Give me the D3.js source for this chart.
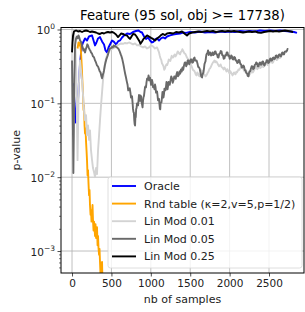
<!DOCTYPE html>
<html><head><meta charset="utf-8">
<script src="https://cdn.jsdelivr.net/npm/d3@7"></script>
<style>body{margin:0;background:#fff} svg{display:block;font-family:"DejaVu Sans",sans-serif}</style>
</head><body><svg id="c" width="305" height="312"></svg>
<script>
const title = "Feature (95 sol, obj >= 17738)";
const xLabel = "nb of samples";
const yLabel = "p-value";
const xTicks = [0, 500, 1000, 1500, 2000, 2500];
const yTicks = [1, 0.1, 0.01, 0.001];
const yTickExp = ["0", "\u22121", "\u22122", "\u22123"];
const seriesNames = ["Oracle", "Rnd table (\u03ba=2,v=5,p=1/2)", "Lin Mod 0.01", "Lin Mod 0.05", "Lin Mod 0.25"];
const seriesColors = ["#0000ff", "#ffa500", "#d3d3d3", "#696969", "#000000"];

const oracle = [[15,0.186],[25,0.128],[40,0.081],[47,0.055],[55,0.069],[63,0.063],[76,0.110],[89,0.205],[100,0.326],[115,0.489],
[127,0.608],[140,0.667],[165,0.756],[190,0.710],[215,0.804],[254,0.830],[273,0.710],[292,0.608],[310,0.667],[330,0.756],
[355,0.790],[381,0.689],[406,0.627],[425,0.520],[444,0.489],[463,0.571],[482,0.627],[508,0.710],[533,0.680],[558,0.627],
[584,0.689],[609,0.710],[635,0.780],[660,0.830],[698,0.883],[736,0.870],[774,0.925],[812,0.954],[844,0.969],[869,0.925],
[888,0.911],[914,0.804],[939,0.745],[964,0.780],[990,0.710],[1015,0.667],[1034,0.680],[1053,0.733],[1079,0.756],[1104,0.710],
[1129,0.756],[1155,0.780],[1180,0.756],[1206,0.804],[1244,0.830],[1282,0.856],[1320,0.870],[1371,0.883],[1409,0.911],[1447,0.900],
[1497,0.925],[1561,0.911],[1624,0.940],[1688,0.911],[1751,0.925],[1815,0.911],[1878,0.940],[1942,0.925],[2005,0.940],[2068,0.925],
[2132,0.954],[2195,0.940],[2259,0.954],[2322,0.940],[2386,0.969],[2449,0.954],[2513,0.969],[2576,0.954],[2640,0.969],[2703,0.954],
[2767,0.940],[2817,0.925],[2855,0.900]];

const rndTable = [[70,0.553],[82,0.667],[95,0.608],[105,0.667],[114,0.489],[123,0.326],[131,0.205],[140,0.128],[146,0.081],[152,0.094],
[159,0.050],[165,0.039],[171,0.046],[178,0.030],[184,0.023],[190,0.017],[197,0.0106],[203,0.0124],[209,0.0083],[216,0.0057],
[222,0.0067],[228,0.0042],[235,0.0031],[241,0.0036],[247,0.0025],[254,0.0028],[260,0.0042],[266,0.0026],[273,0.0019],[279,0.0025],
[285,0.0021],[292,0.0016],[298,0.0023],[305,0.0015],[311,0.0018],[317,0.0021],[324,0.0012],[330,0.0016],[336,0.0011],[343,0.00089],
[349,0.00107],[355,0.00071],[362,0.00047],[368,0.00030],[374,0.00064],[381,0.00071],[387,0.00035],[393,0.00022]];

const linMod001 = [[0,0.856],[6,0.710],[19,0.911],[32,0.804],[44,0.520],[55,0.205],[63,0.059],[70,0.017],[76,0.043],[82,0.110],
[91,0.239],[102,0.381],[114,0.279],[127,0.205],[140,0.128],[152,0.081],[165,0.059],[178,0.069],[190,0.037],[203,0.050],
[216,0.032],[228,0.043],[241,0.023],[254,0.017],[266,0.0133],[279,0.0117],[292,0.0100],[305,0.0133],[317,0.0110],[330,0.023],
[343,0.037],[355,0.059],[368,0.094],[381,0.141],[393,0.205],[406,0.279],[419,0.347],[431,0.406],[450,0.460],[470,0.505],
[495,0.537],[520,0.553],[546,0.571],[571,0.608],[597,0.627],[622,0.647],[647,0.640],[673,0.657],[698,0.647],[723,0.667],
[749,0.647],[774,0.627],[800,0.647],[825,0.608],[850,0.617],[876,0.589],[901,0.571],[926,0.589],[952,0.553],[977,0.571],
[1002,0.608],[1028,0.589],[1053,0.553],[1079,0.571],
[1104,0.489],[1113,0.445],[1123,0.406],[1132,0.390],[1142,0.347],[1151,0.335],[1161,0.317],[1170,0.285],[1180,0.297],[1190,0.325],
[1199,0.337],[1208,0.330],[1218,0.358],[1228,0.392],[1237,0.381],[1247,0.375],[1256,0.406],[1265,0.440],[1275,0.418],[1285,0.420],
[1294,0.445],[1304,0.460],[1313,0.432],[1323,0.450],[1332,0.474],[1342,0.505],[1351,0.489],[1361,0.470],[1371,0.460],[1380,0.495],
[1390,0.505],[1400,0.540],[1409,0.520],[1419,0.490],[1428,0.474],[1438,0.468],[1447,0.445],[1457,0.420],[1466,0.406],[1476,0.392],
[1485,0.370],[1495,0.345],[1504,0.337],[1514,0.325],[1523,0.307],[1533,0.285],[1542,0.279],[1552,0.275],[1561,0.262],[1571,0.245],
[1580,0.239],[1590,0.262],[1599,0.254],[1609,0.238],[1618,0.232],[1628,0.248],[1637,0.254],[1647,0.280],[1656,0.270],[1666,0.255],
[1675,0.247],[1685,0.242],[1694,0.232],[1704,0.238],[1713,0.247],[1723,0.262],[1732,0.270],[1742,0.290],[1751,0.297],[1761,0.310],
[1770,0.326],[1780,0.345],[1789,0.358],[1799,0.368],[1808,0.381],[1818,0.360],[1827,0.370],[1837,0.362],[1846,0.347],[1856,0.330],
[1866,0.317],[1875,0.322],[1885,0.337],[1895,0.315],[1904,0.307],[1914,0.300],[1923,0.288],[1933,0.305],[1942,0.297],[1952,0.282],
[1961,0.270],[1971,0.290],[1980,0.279],[1990,0.265],[1999,0.254],[2009,0.272],[2018,0.262],[2028,0.250],[2037,0.239],[2047,0.250],
[2056,0.262],[2066,0.252],[2075,0.247],[2085,0.268],[2094,0.262],[2104,0.275],[2113,0.288],[2123,0.285],[2132,0.297],[2142,0.305],
[2151,0.317],[2161,0.300],[2170,0.297],[2180,0.282],[2189,0.270],[2199,0.285],[2208,0.279],[2218,0.262],[2227,0.254],[2237,0.245],
[2246,0.239],[2256,0.248],[2265,0.254],[2275,0.268],[2284,0.279],[2294,0.262],[2303,0.270],[2313,0.285],[2322,0.297],[2332,0.312],
[2341,0.307],[2351,0.290],[2360,0.297],[2370,0.310],[2379,0.317],[2389,0.300],[2398,0.307],[2408,0.318],[2417,0.326],[2427,0.310],
[2437,0.317],[2446,0.330],[2456,0.337],[2465,0.350],[2475,0.347],[2484,0.330],[2494,0.337],[2503,0.352],[2513,0.358],[2522,0.375],
[2532,0.370],[2541,0.352],[2551,0.358],[2560,0.382],[2570,0.393],[2580,0.410],[2589,0.406],[2598,0.385],[2608,0.393],[2618,0.418],
[2627,0.432],[2637,0.410],[2646,0.418],[2656,0.440],[2665,0.445],[2675,0.462],[2684,0.474],[2694,0.468],[2703,0.489]];

const linMod005 = [[0,0.381],[6,0.110],[13,0.032],[17,0.0114],[23,0.043],[29,0.205],[38,0.608],[51,0.756],[63,0.804],[72,0.760],
[82,0.830],[92,0.780],[102,0.710],[114,0.680],[127,0.608],[136,0.570],[146,0.520],[155,0.540],[165,0.489],[175,0.540],
[184,0.571],[194,0.630],[203,0.608],[212,0.570],[222,0.537],[231,0.520],[241,0.489],[254,0.470],[266,0.432],[279,0.420],
[292,0.381],[305,0.355],[317,0.326],[330,0.315],[343,0.288],[352,0.270],[362,0.262],[372,0.235],[381,0.218],[387,0.230],
[393,0.247],[400,0.262],[406,0.279],[415,0.320],[425,0.358],[434,0.390],[444,0.418],[453,0.445],[463,0.489],[472,0.530],
[482,0.553],[495,0.560],[508,0.580],[518,0.570],[527,0.608],[536,0.590],[546,0.600],[558,0.585],[571,0.571],[580,0.560],
[590,0.545],[600,0.520],[609,0.489],[618,0.460],[628,0.432],[637,0.400],[647,0.358],[656,0.320],[666,0.279],[675,0.250],
[685,0.224],[694,0.200],[704,0.180],[713,0.150],[723,0.155],[732,0.160],[742,0.137],[748,0.120],[755,0.124],[761,0.125],
[768,0.103],[774,0.084],[780,0.076],[785,0.075],[790,0.059],[795,0.052],[800,0.050],[804,0.064],[809,0.065],[814,0.084],
[819,0.086],[825,0.100],[831,0.097],[838,0.094],[844,0.110],[850,0.130],[857,0.121],[863,0.108],[869,0.128],[876,0.124],
[882,0.106],[888,0.098],[895,0.088],[901,0.108],[907,0.121],[913,0.126],[920,0.145],[926,0.165],[933,0.170],[939,0.165],
[945,0.192],[952,0.215],[958,0.218],[964,0.210],[971,0.239],[977,0.205],[984,0.224],[990,0.222],[996,0.205],[1003,0.178],
[1009,0.180],[1015,0.208],[1022,0.192],[1028,0.165],[1034,0.170],[1040,0.170],[1047,0.155],[1053,0.180],[1060,0.165],[1066,0.140],
[1072,0.145],[1079,0.145],[1085,0.128],[1091,0.110],[1098,0.113],[1104,0.115],[1110,0.097],[1115,0.084],[1120,0.083],[1124,0.102],
[1129,0.103],[1135,0.103],[1142,0.121],[1148,0.143],[1155,0.141],[1161,0.120],[1167,0.133],[1173,0.158],[1180,0.155],[1186,0.150],
[1193,0.170],[1199,0.195],[1206,0.180],[1212,0.155],[1218,0.170],[1225,0.195],[1231,0.192],[1240,0.178],[1250,0.205],[1259,0.232],
[1269,0.218],[1278,0.190],[1288,0.205],[1297,0.232],[1307,0.232],[1316,0.215],[1326,0.247],[1335,0.265],[1345,0.232],[1354,0.240],
[1364,0.270],[1373,0.252],[1383,0.288],[1392,0.270],[1402,0.307],[1411,0.285],[1421,0.326],[1430,0.355],[1440,0.358],[1449,0.318],
[1459,0.337],[1468,0.380],[1478,0.381],[1487,0.338],[1497,0.358],[1506,0.392],[1516,0.393],[1525,0.355],[1535,0.358],[1544,0.405],
[1554,0.418],[1563,0.378],[1573,0.381],[1582,0.378],[1592,0.347],[1601,0.312],[1611,0.307],[1620,0.295],[1630,0.262],[1640,0.230],
[1650,0.224],[1656,0.245],[1662,0.254],[1668,0.262],[1675,0.297],[1681,0.340],[1688,0.358],[1694,0.370],[1700,0.418],[1706,0.460],
[1713,0.474],[1719,0.480],[1726,0.520],[1735,0.450],[1745,0.489],[1754,0.490],[1764,0.445],[1773,0.450],[1783,0.489],[1792,0.450],
[1802,0.460],[1811,0.500],[1821,0.505],[1830,0.465],[1840,0.460],[1849,0.420],[1859,0.418],[1868,0.468],[1878,0.474],[1887,0.510],
[1897,0.505],[1906,0.450],[1916,0.445],[1925,0.402],[1935,0.406],[1944,0.450],[1954,0.445],[1963,0.490],[1973,0.489],[1982,0.440],
[1992,0.445],[2001,0.402],[2011,0.406],[2020,0.445],[2030,0.432],[2039,0.395],[2049,0.393],[2058,0.425],[2068,0.418],[2077,0.380],
[2087,0.381],[2097,0.352],[2107,0.358],[2116,0.388],[2126,0.381],[2135,0.342],[2145,0.337],[2154,0.305],[2164,0.307],[2173,0.325],
[2183,0.317],[2192,0.282],[2202,0.279],[2211,0.258],[2221,0.254],[2230,0.235],[2240,0.232],[2246,0.258],[2252,0.270],[2261,0.272],
[2271,0.297],[2280,0.318],[2290,0.317],[2299,0.290],[2309,0.297],[2319,0.330],[2329,0.337],[2338,0.358],[2348,0.347],[2357,0.318],
[2367,0.317],[2376,0.348],[2386,0.358],[2395,0.332],[2405,0.337],[2414,0.365],[2424,0.370],[2433,0.335],[2443,0.326],[2452,0.350],
[2462,0.358],[2471,0.385],[2481,0.381],[2490,0.352],[2500,0.358],[2509,0.395],[2519,0.406],[2528,0.378],[2538,0.381],[2547,0.410],
[2557,0.418],[2566,0.398],[2576,0.406],[2585,0.440],[2595,0.445],[2604,0.418],[2614,0.418],[2623,0.452],[2633,0.460],[2642,0.438],
[2652,0.432],[2661,0.475],[2671,0.489],[2680,0.462],[2690,0.460],[2699,0.498],[2709,0.505],[2719,0.500],[2729,0.520],[2735,0.545],
[2741,0.537]];

const linMod025 = [[0,0.490],[6,0.667],[13,0.830],[25,0.940],[51,0.969],[76,0.940],[102,0.954],[127,0.925],[152,0.954],[178,0.969],
[203,0.954],[228,0.925],[254,0.940],[279,0.925],[305,0.911],[330,0.883],[355,0.870],[381,0.900],[406,0.883],[431,0.911],
[457,0.925],[482,0.911],[508,0.925],[533,0.900],[558,0.856],[584,0.790],[603,0.830],[622,0.883],[647,0.870],[673,0.840],
[698,0.830],[717,0.780],[736,0.745],[755,0.804],[774,0.870],[800,0.856],[819,0.804],[838,0.745],[857,0.689],[869,0.640],
[888,0.689],[907,0.745],[926,0.780],[952,0.830],[977,0.804],[1002,0.770],[1028,0.745],[1053,0.710],[1079,0.756],[1104,0.790],
[1129,0.840],[1155,0.870],[1180,0.840],[1206,0.883],[1244,0.900],[1282,0.883],[1320,0.925],[1358,0.911],[1396,0.940],[1434,0.870],
[1459,0.830],[1485,0.883],[1523,0.911],[1561,0.925],[1599,0.940],[1637,0.925],[1675,0.940],[1713,0.954],[1751,0.940],[1789,0.954],
[1827,0.925],[1866,0.940],[1904,0.954],[1942,0.940],[1980,0.954],[2018,0.940],[2056,0.954],[2094,0.940],[2132,0.925],[2170,0.911],
[2208,0.925],[2246,0.940],[2284,0.925],[2322,0.940],[2360,0.911],[2398,0.900],[2437,0.925],[2475,0.940],[2513,0.954],[2551,0.940],
[2589,0.954],[2627,0.940],[2665,0.954],[2703,0.969],[2741,0.954],[2779,0.940],[2805,0.925]];

const seriesData = [oracle, rndTable, linMod001, linMod005, linMod025];

const W = 305, H = 312;
const L = 61, R = 304, T = 27.5, B = 273;
const svg = d3.select("#c");
const x = d3.scaleLinear().domain([-140, 2944]).range([L, R]);
const y = d3.scaleLog().domain([1.064, 5.04e-4]).range([T, B]);

svg.append("rect").attr("width", W).attr("height", H).attr("fill", "#fff");

// grid
const grid = svg.append("g").attr("stroke", "#b0b0b0").attr("stroke-width", 0.8);
xTicks.forEach(v => grid.append("line").attr("x1", x(v)).attr("x2", x(v)).attr("y1", T).attr("y2", B));
yTicks.forEach(v => grid.append("line").attr("x1", L).attr("x2", R).attr("y1", y(v)).attr("y2", y(v)));

// clip
svg.append("clipPath").attr("id", "clip").append("rect").attr("x", L).attr("y", T).attr("width", R - L).attr("height", B - T);

const line = d3.line().x(d => x(d[0])).y(d => y(d[1]));
const lines = svg.append("g").attr("clip-path", "url(#clip)");
seriesData.forEach((s, i) => {
  lines.append("path").attr("d", line(s)).attr("fill", "none")
    .attr("stroke", seriesColors[i]).attr("stroke-width", 1.9).attr("stroke-linejoin", "round");
});

// axes
const xAxis = svg.append("g").attr("transform", `translate(0,${B})`)
  .call(d3.axisBottom(x).tickValues(xTicks).tickFormat(d3.format("d")).tickSize(3.5).tickPadding(3));
xAxis.select(".domain").remove();
xAxis.selectAll("text").attr("font-size", 10.5).attr("fill", "#222").attr("font-family", "DejaVu Sans");
xAxis.selectAll("line").attr("stroke", "#222").attr("stroke-width", 0.8);

const yMinor = [];
for (let e = -4; e <= 0; e++) for (let m = 2; m <= 9; m++) { const v = m * Math.pow(10, e); if (v >= 5.04e-4 && v <= 1.064) yMinor.push(v); }
const yAxisMinor = svg.append("g").attr("transform", `translate(${L},0)`)
  .call(d3.axisLeft(y).tickValues(yMinor).tickFormat("").tickSize(2));
yAxisMinor.select(".domain").remove();
yAxisMinor.selectAll("line").attr("stroke", "#222").attr("stroke-width", 0.6);

const yAxis = svg.append("g").attr("transform", `translate(${L},0)`)
  .call(d3.axisLeft(y).tickValues(yTicks).tickFormat("").tickSize(3.5));
yAxis.select(".domain").remove();
yAxis.selectAll("line").attr("stroke", "#222").attr("stroke-width", 0.8);

yTicks.forEach((v, i) => {
  const t = svg.append("text").attr("x", L - 6).attr("y", y(v) + 4.5).attr("text-anchor", "end")
    .attr("font-size", 10.5).attr("fill", "#222");
  t.append("tspan").text("10");
  t.append("tspan").attr("dy", -5).attr("font-size", 7.5).text(yTickExp[i]);
});

// spines
svg.append("rect").attr("x", L).attr("y", T).attr("width", R - L).attr("height", B - T)
  .attr("fill", "none").attr("stroke", "#000").attr("stroke-width", 1);

// titles
svg.append("text").attr("x", (L + R) / 2).attr("y", 20).attr("text-anchor", "middle")
  .attr("font-size", 13.2).attr("fill", "#000").text(title);
svg.append("text").attr("x", (L + R) / 2).attr("y", 303).attr("text-anchor", "middle")
  .attr("font-size", 11).attr("fill", "#222").text(xLabel);
svg.append("text").attr("transform", `translate(20,${(T + B) / 2}) rotate(-90)`).attr("text-anchor", "middle")
  .attr("font-size", 11).attr("fill", "#222").text(yLabel);

// legend
const lg = svg.append("g");
lg.append("rect").attr("x", 108).attr("y", 177).attr("width", 194).attr("height", 91).attr("rx", 2.5)
  .attr("fill", "#fff").attr("fill-opacity", 0.8).attr("stroke", "#d5d5d5").attr("stroke-width", 0.8);
seriesNames.forEach((n, i) => {
  const yy = 186 + i * 17.6;
  lg.append("line").attr("x1", 112).attr("x2", 136).attr("y1", yy).attr("y2", yy)
    .attr("stroke", seriesColors[i]).attr("stroke-width", 1.9);
  lg.append("text").attr("x", 144).attr("y", yy + 4).attr("font-size", 11).attr("fill", "#222").text(n);
});
</script></body></html>
